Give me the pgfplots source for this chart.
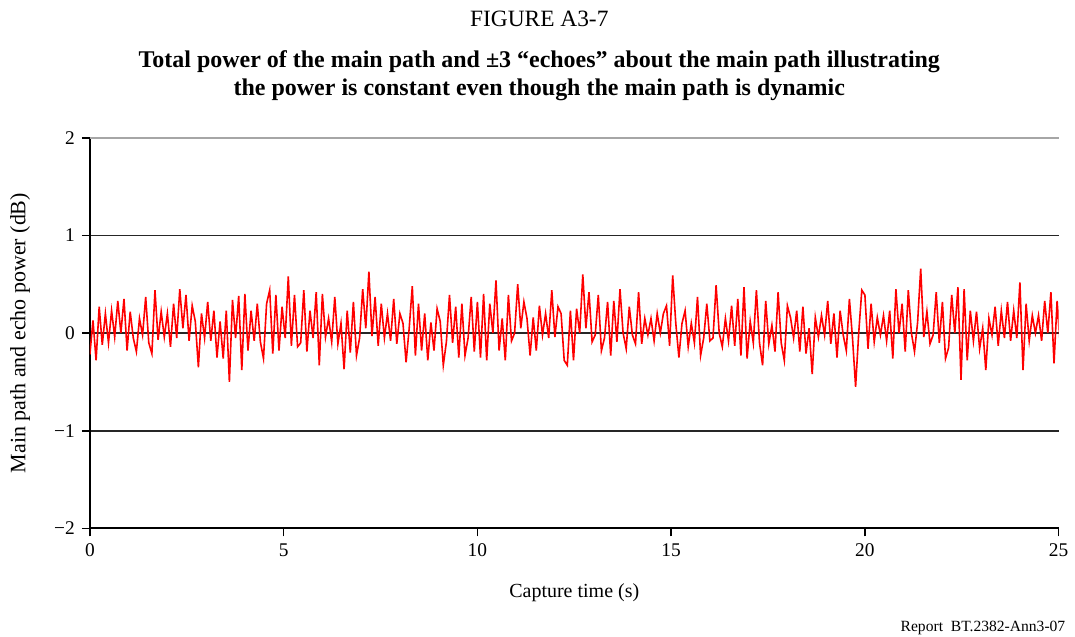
\documentclass[border=0pt]{standalone}
\usepackage{fontspec}
\setmainfont{Liberation Serif}
\usepackage{pgfplots}
\pgfplotsset{compat=1.18}

\begin{document}
\begin{tikzpicture}
% frame: 1 px of the reference = 0.5pt
\path (0,0) rectangle (537.5pt,318.5pt);
\node[font=\fontsize{11.7}{13}\selectfont] at (270pt,309pt) {FIGURE A3-7};
\node[font=\fontsize{12}{14}\selectfont\bfseries, align=center] at (270pt,280.5pt)
  {Total power of the main path and ±3 “echoes” about the main path illustrating\\
   the power is constant even though the main path is dynamic};
\node[font=\fontsize{7.8}{9}\selectfont, anchor=south east, inner sep=0pt] at (533.5pt,0.5pt) {Report\ \ BT.2382-Ann3-07};

\begin{axis}[
    at={(45pt,54pt)}, anchor=south west,
    scale only axis,
    width=485pt, height=195.5pt,
    xmin=0, xmax=25, ymin=-2, ymax=2,
    axis x line*=bottom, axis y line*=left,
    axis line style={black, line width=1pt},
    xtick={0,5,...,25},
    ytick={-2,-1,0,1},
    yticklabels={−2,−1,0,1},
    extra y ticks={2}, extra y tick labels={2},
    extra y tick style={grid=major, major grid style={gray!70, line width=0.8pt}},
    tick align=outside, major tick length=4pt,
    tick style={black, line width=0.8pt},
    ymajorgrids, major grid style={black!85, line width=0.9pt},
    /pgf/number format/assume math mode=true,
    tick label style={font=\fontsize{9.7}{11}\selectfont},
    xlabel={Capture time (s)},
    ylabel={Main path and echo power (dB)},
    xlabel style={font=\fontsize{10}{11}\selectfont, at={(axis description cs:0.5,-0.164)}, anchor=center},
    ylabel style={font=\fontsize{11}{12}\selectfont, at={(axis description cs:-0.072,0.5)}, anchor=center},
]
\addplot[red, line width=0.8pt, no markers] table[row sep=\\, header=false, x expr=\coordindex*0.08, y index=0] {
-0.22\\ 0.13\\ -0.28\\ 0.27\\ -0.12\\ 0.20\\ -0.10\\ 0.23\\ -0.04\\ 0.33\\
0.00\\ 0.35\\ -0.18\\ 0.22\\ -0.05\\ -0.19\\ 0.15\\ -0.02\\ 0.37\\ -0.10\\
-0.21\\ 0.44\\ -0.07\\ 0.22\\ -0.04\\ 0.20\\ -0.14\\ 0.30\\ -0.05\\ 0.45\\
0.05\\ 0.39\\ -0.08\\ 0.28\\ 0.12\\ -0.35\\ 0.20\\ -0.05\\ 0.32\\ -0.08\\
0.23\\ -0.25\\ 0.12\\ -0.26\\ 0.23\\ -0.50\\ 0.34\\ -0.05\\ 0.38\\ -0.38\\
0.40\\ -0.18\\ 0.23\\ -0.08\\ 0.30\\ -0.09\\ -0.26\\ 0.30\\ 0.44\\ -0.21\\
0.39\\ -0.18\\ 0.27\\ -0.05\\ 0.58\\ -0.13\\ 0.39\\ -0.14\\ -0.10\\ 0.44\\
-0.19\\ 0.23\\ -0.05\\ 0.42\\ -0.33\\ 0.40\\ -0.04\\ 0.15\\ -0.09\\ 0.37\\
-0.11\\ 0.10\\ -0.37\\ 0.23\\ -0.20\\ 0.32\\ -0.23\\ -0.05\\ 0.45\\ 0.05\\
0.63\\ -0.03\\ 0.37\\ -0.13\\ 0.30\\ -0.05\\ 0.20\\ -0.08\\ 0.35\\ -0.11\\
0.20\\ 0.10\\ -0.30\\ 0.05\\ 0.48\\ -0.23\\ 0.30\\ -0.18\\ 0.20\\ -0.28\\
0.11\\ -0.18\\ 0.25\\ 0.12\\ -0.33\\ -0.09\\ 0.39\\ -0.10\\ 0.27\\ -0.25\\
0.30\\ -0.23\\ -0.05\\ 0.37\\ -0.19\\ 0.32\\ -0.25\\ 0.40\\ -0.28\\ 0.30\\
0.00\\ 0.54\\ -0.18\\ 0.15\\ -0.28\\ 0.39\\ -0.08\\ 0.00\\ 0.50\\ 0.05\\
0.32\\ 0.15\\ -0.23\\ 0.16\\ -0.18\\ 0.28\\ -0.02\\ 0.20\\ -0.05\\ 0.44\\
-0.04\\ 0.27\\ 0.20\\ -0.28\\ -0.33\\ 0.23\\ -0.28\\ 0.25\\ 0.00\\ 0.60\\
0.05\\ 0.42\\ -0.09\\ -0.02\\ 0.39\\ -0.18\\ -0.05\\ 0.32\\ -0.23\\ 0.33\\
-0.09\\ 0.45\\ 0.00\\ -0.16\\ 0.27\\ -0.02\\ -0.11\\ 0.42\\ -0.11\\ 0.15\\
-0.02\\ 0.15\\ -0.08\\ 0.20\\ 0.00\\ 0.20\\ 0.28\\ -0.13\\ 0.59\\ 0.10\\
-0.25\\ 0.10\\ 0.23\\ -0.14\\ 0.10\\ -0.10\\ 0.37\\ -0.23\\ -0.05\\ 0.30\\
-0.08\\ -0.05\\ 0.49\\ 0.00\\ -0.14\\ 0.15\\ -0.08\\ 0.28\\ -0.13\\ 0.35\\
-0.23\\ 0.47\\ -0.26\\ 0.12\\ -0.10\\ 0.44\\ -0.10\\ -0.33\\ 0.33\\ -0.11\\
0.08\\ -0.19\\ 0.42\\ -0.10\\ -0.28\\ 0.28\\ 0.16\\ -0.05\\ 0.23\\ -0.19\\
0.27\\ -0.21\\ 0.05\\ -0.42\\ 0.16\\ -0.04\\ 0.18\\ -0.02\\ 0.33\\ -0.11\\
0.20\\ -0.25\\ 0.23\\ -0.02\\ -0.18\\ 0.35\\ -0.05\\ -0.55\\ 0.00\\ 0.44\\
0.39\\ -0.16\\ 0.30\\ -0.09\\ 0.16\\ -0.02\\ 0.18\\ -0.08\\ 0.23\\ -0.26\\
0.45\\ 0.00\\ 0.30\\ -0.19\\ 0.44\\ 0.00\\ -0.19\\ 0.11\\ 0.66\\ -0.04\\
0.22\\ -0.11\\ -0.02\\ 0.42\\ -0.10\\ 0.32\\ -0.26\\ -0.15\\ 0.39\\ 0.00\\
0.47\\ -0.48\\ 0.45\\ -0.28\\ 0.23\\ -0.08\\ 0.22\\ -0.16\\ 0.05\\ -0.38\\
0.15\\ -0.02\\ 0.27\\ -0.13\\ 0.23\\ -0.05\\ 0.32\\ -0.08\\ 0.23\\ -0.05\\
0.52\\ -0.38\\ 0.30\\ -0.08\\ 0.18\\ 0.00\\ 0.18\\ -0.08\\ 0.33\\ 0.00\\
0.42\\ -0.31\\ 0.33\\ -0.15\\
};
\end{axis}
\end{tikzpicture}
\end{document}
